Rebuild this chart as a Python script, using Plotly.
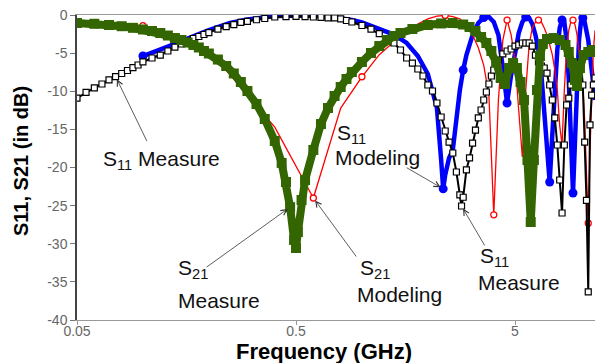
import math
import plotly.graph_objects as go

# ---------------- data (frequency in GHz, level in dB) ----------------
s11_meas_f = [0.05, 0.055, 0.06, 0.065, 0.07, 0.075, 0.08, 0.085, 0.09, 0.095,
              0.10, 0.11, 0.12, 0.13, 0.14, 0.15, 0.16, 0.17, 0.18, 0.19, 0.20,
              0.22, 0.24, 0.26, 0.28, 0.30, 0.33, 0.36, 0.40, 0.45, 0.50,
              0.55, 0.60, 0.65, 0.70, 0.75, 0.80, 0.85, 0.90,
              1.0, 1.1, 1.2, 1.3, 1.4, 1.5, 1.6, 1.7, 1.8, 1.9, 2.0, 2.1, 2.2, 2.3, 2.4, 2.5, 2.6, 2.7, 2.8,
              2.85,
              2.9, 3.0, 3.1, 3.2, 3.3, 3.4, 3.5, 3.6, 3.7, 3.8, 3.9, 4.0,
              4.2, 4.4, 4.6, 4.8, 5.0, 5.2, 5.4, 5.6, 5.8, 6.0, 6.2, 6.4, 6.6, 6.8, 7.0, 7.2, 7.4, 7.6, 7.8,
              8.0, 8.2, 8.4, 8.6, 8.8, 9.0, 9.2, 9.4, 9.6, 9.8, 10.0, 10.2, 10.4, 10.6, 10.8, 11.0, 11.2,
              11.4, 11.6]
s11_meas_db = [-10.89, -10.16, -9.57, -9.05, -8.52, -8.07, -7.67, -7.28, -6.89, -6.56,
               -6.16, -5.64, -5.25, -4.72, -4.2, -3.8, -3.41, -3.08, -2.82, -2.56, -2.3,
               -1.84, -1.53, -1.25, -0.98, -0.83, -0.62, -0.46, -0.26, -0.2, -0.17,
               -0.2, -0.26, -0.31, -0.37, -0.39, -0.52, -0.72, -0.92,
               -1.38, -1.84, -2.43, -3.08, -3.67, -4.59, -5.64, -6.3, -7.08, -8.0, -9.18, -9.97, -11.54,
               -13.38, -15.21, -16.66, -18.1, -20.59, -23.6,
               -25.05,
               -23.9, -20.3, -18.75, -16.8, -15.1, -13.5, -12.46, -11.15, -10.1, -9.05, -8.0, -7.21,
               -5.9, -5.11, -4.72, -4.46, -4.07, -3.93, -3.67, -3.67, -3.67, -4.07, -5.25, -6.16, -6.69,
               -6.95, -7.61, -9.18, -11.15, -13.5, -17.05, -21.64, -25.97, -17.05, -11.8, -10.9, -9.18,
               -8.26, -7.48, -6.82, -6.3, -6.3, -9.18, -16.66, -24.3, -36.3, -14.4, -10.5, -9.18, -8.26]

s21_meas_f = [0.05, 0.06, 0.07, 0.08, 0.09,
              0.10, 0.11, 0.12, 0.13, 0.14, 0.15, 0.16, 0.17, 0.18, 0.19, 0.20,
              0.22, 0.24, 0.26, 0.28, 0.30,
              0.33, 0.36, 0.40, 0.43, 0.45, 0.47, 0.49, 0.50, 0.51, 0.53, 0.55,
              0.60, 0.65, 0.70, 0.75, 0.80, 0.85, 0.90,
              1.0, 1.1, 1.2, 1.3, 1.4, 1.5, 1.7, 2.0, 2.3, 2.6, 2.9,
              3.1, 3.3, 3.5, 3.7, 3.9, 4.1, 4.3, 4.5, 4.7, 4.9, 5.1, 5.3, 5.5, 5.7, 5.9, 6.1, 6.3, 6.5, 6.7,
              7.0, 7.5, 8.0, 8.5, 8.8, 9.1, 9.4, 9.6, 9.9, 10.3, 10.8, 11.3, 11.6]
s21_meas_db = [-1.05, -1.15, -1.31, -1.47, -1.68,
               -1.9, -2.1, -2.36, -2.69, -3.02, -3.28, -3.61, -3.93, -4.26, -4.72, -5.05,
               -5.84, -6.69, -7.67, -8.79, -9.97,
               -11.67, -13.64, -16.52, -19.4, -21.9, -25.2, -29.5, -30.56, -28.46, -24.26, -21.64,
               -17.7, -14.3, -12.2, -10.62, -9.44, -8.39, -7.48,
               -6.16, -4.98, -4.07, -3.28, -2.75, -2.36, -1.84, -1.31, -1.11, -1.05, -1.25,
               -1.57, -2.1, -2.89, -3.67, -4.72, -6.16, -8.26, -9.05, -6.95, -6.3, -6.95, -8.79, -11.15,
               -19.02, -27.15, -19.02, -9.84, -5.38, -3.8,
               -3.15, -3.02, -3.28, -3.93, -4.85, -6.3, -8.52, -9.31, -6.95, -5.25, -4.85, -4.59, -4.85]

s11_mod_f = [0.10, 0.12, 0.14, 0.16, 0.18, 0.20,
             0.25, 0.30, 0.40, 0.50, 0.60, 0.70, 0.80, 0.90,
             1.0, 1.2, 1.4, 1.6, 1.8, 2.0,
             2.1, 2.2, 2.3, 2.35, 2.4, 2.5, 2.6, 2.7, 2.8, 2.9, 3.0,
             3.2, 3.4, 3.6, 3.8, 4.0, 4.2, 4.4, 4.6, 4.8, 5.0, 5.2, 5.4, 5.6, 5.8, 6.0, 6.2, 6.4, 6.6,
             6.8, 7.0, 7.2, 7.4, 7.6, 7.8, 8.0, 8.2, 8.4, 8.6, 8.8, 9.0, 9.2, 9.4, 9.6, 9.8, 10.0, 10.2, 10.4,
             10.8, 11.2, 11.6]
s11_mod_db = [-5.38, -4.59, -3.8, -3.08, -2.49, -1.97,
              -1.05, -0.59, -0.13, -0.04, -0.07, -0.2, -0.39, -0.66,
              -0.98, -1.77, -2.56, -3.67, -5.38, -7.74,
              -10.1, -12.2, -19.0, -22.8, -20.98, -18.75, -17.7, -13.1, -9.84, -7.21, -5.25,
              -2.62, -1.05, -0.33, -0.26, -0.92, -2.62, -6.95, -11.54, -7.87, -4.59, -2.36, -0.92, -0.26,
              -0.39, -1.18, -2.62, -4.59, -7.87, -12.46, -17.7, -21.9, -15.74, -9.18, -4.59, -1.7, -0.66,
              -0.92, -3.28, -8.52, -16.39, -23.34, -16.39, -8.52, -3.28, -0.92, -0.39, -0.92,
              -3.28, -7.21, -11.15]
s11_mod_marker_f = [0.10, 2.35, 2.9, 3.6, 4.6, 5.6, 7.2, 8.2, 9.2, 10.2]

s21_mod_f = [0.1, 0.2, 0.4, 0.6, 0.8, 1.0, 1.2, 1.4, 1.6, 1.8, 2.0, 2.2, 2.4, 2.6, 2.8, 3.0,
             3.2, 3.4, 3.6, 3.8, 4.0, 4.2, 4.4, 4.6, 4.8, 5.0, 5.2, 5.4, 5.6, 5.8, 6.0, 6.2, 6.4,
             6.6, 6.8, 7.0, 7.2, 7.4, 7.6, 7.8, 8.0, 8.2, 8.4, 8.6, 8.8, 9.0, 9.2, 9.4, 9.6, 9.8,
             10.0, 10.2, 10.4, 10.6, 10.8, 11.0, 11.2, 11.4, 11.6]
s21_mod_db = [-1.4, -4.6, -14.7, -24.0, -12.2, -8.1, -5.2, -3.5, -2.2, -1.2, -0.5, -0.15, -0.05,
              -0.2, -0.5, -1.3, -2.6, -4.3, -6.6, -10.5, -26.2, -11.1, -3.3, -0.66, -2.6, -5.9,
              -12.5, -18.6, -9.8, -3.9, -1.7, -0.9, -0.66, -0.9, -1.7, -2.6, -3.9, -5.2, -7.2,
              -9.8, -14.5, -17.0, -9.8, -4.6, -2.0, -0.9, -0.66, -1.3, -2.6, -4.6, -6.6, -9.2,
              -13.8, -20.3, -27.3, -17.7, -9.8, -4.6, -2.0]
s21_mod_marker_f = [0.1, 0.6, 1.0, 2.4, 4.0, 4.6, 6.4, 9.2, 10.8]

x_tick_vals = [0.05, 0.5, 5]
x_tick_text = ["0.05", "0.5", "5"]
y_tick_vals = [0, -5, -10, -15, -20, -25, -30, -35, -40]
y_tick_text = ["0", "-5", "-10", "-15", "-20", "-25", "-30", "-35", "-40"]

assert len(s11_meas_f) == len(s11_meas_db)
assert len(s21_meas_f) == len(s21_meas_db)
assert len(s11_mod_f) == len(s11_mod_db)
assert len(s21_mod_f) == len(s21_mod_db)


def subset(fs, ds, keep):
    pairs = [(f, d) for f, d in zip(fs, ds) if f in keep]
    return [p[0] for p in pairs], [p[1] for p in pairs]


def value_at(fs, ds, f0):
    return ds[fs.index(f0)]


BLUE = "#0000ff"
RED = "#ff0000"
GREEN = "#336600"
FONT = "Liberation Sans, Arial, sans-serif"

fig = go.Figure()

# S11 modeling (blue thick line + filled circles)
fig.add_trace(go.Scatter(x=s11_mod_f, y=s11_mod_db, mode="lines",
                         line=dict(color=BLUE, width=4.5), showlegend=False))
bx, by = subset(s11_mod_f, s11_mod_db, s11_mod_marker_f)
fig.add_trace(go.Scatter(x=bx, y=by, mode="markers",
                         marker=dict(symbol="circle", size=9, color=BLUE), showlegend=False))

# S21 modeling (thin red line + open circles)
fig.add_trace(go.Scatter(x=s21_mod_f, y=s21_mod_db, mode="lines",
                         line=dict(color=RED, width=1.3), showlegend=False))
rx, ry = subset(s21_mod_f, s21_mod_db, s21_mod_marker_f)
fig.add_trace(go.Scatter(x=rx, y=ry, mode="markers",
                         marker=dict(symbol="circle", size=6, color="white",
                                     line=dict(color=RED, width=1.3)), showlegend=False))

# S11 measure (black line + open squares)
fig.add_trace(go.Scatter(x=s11_meas_f, y=s11_meas_db, mode="lines+markers",
                         line=dict(color="black", width=2),
                         marker=dict(symbol="square", size=6, color="white",
                                     line=dict(color="black", width=1.2)), showlegend=False))

# S21 measure (dark green thick line + filled squares)
fig.add_trace(go.Scatter(x=s21_meas_f, y=s21_meas_db, mode="lines+markers",
                         line=dict(color=GREEN, width=8),
                         marker=dict(symbol="square", size=10, color=GREEN), showlegend=False))

# ---------------- layout ----------------
W, H = 595, 363
L, R, T, B = 77, 0, 15, 43
PW, PH = W - L - R, H - T - B
DECADE_PX = 219.0
x_lo = math.log10(0.05)
x_hi = x_lo + PW / DECADE_PX


def px(xp):
    return (xp - L) / PW


def py(yp):
    return (H - B - yp) / PH


annotations = []
text_font = dict(family=FONT, size=21, color="#111111")


def add_text(txt, xl, yc):
    annotations.append(dict(text=txt, xref="paper", yref="paper", x=px(xl), y=py(yc),
                            xanchor="left", yanchor="middle", showarrow=False, font=text_font,
                            borderpad=0))


def add_arrow(f, d, ax, ay):
    annotations.append(dict(text="", x=math.log10(f), y=d, xref="x", yref="y",
                            ax=ax, ay=ay, showarrow=True, arrowhead=5, arrowsize=1.4,
                            arrowwidth=0.8, arrowcolor="#333333", standoff=3))


add_text("S<sub>11</sub> Measure", 102, 160)
add_arrow(0.075, value_at(s11_meas_f, s11_meas_db, 0.075), 32, 66)

add_text("S<sub>11</sub>", 336, 134)
add_text("Modeling", 334, 157)
add_arrow(2.35, value_at(s11_mod_f, s11_mod_db, 2.35), -38, -22)

add_text("S<sub>21</sub>", 177, 269)
add_text("Measure", 177, 300)
add_arrow(0.47, value_at(s21_meas_f, s21_meas_db, 0.47), -85, 61)

add_text("S<sub>21</sub>", 359, 269)
add_text("Modeling", 356, 294)
add_arrow(0.6, value_at(s21_mod_f, s21_mod_db, 0.6), 44, 60)

add_text("S<sub>11</sub>", 479, 257)
add_text("Measure", 477, 282)
add_arrow(2.85, value_at(s11_meas_f, s11_meas_db, 2.85), 24, 41)

# axis titles as annotations for exact placement
annotations.append(dict(text="<b>S11, S21 (in dB)</b>", xref="paper", yref="paper",
                        x=px(21), y=py(161), xanchor="center", yanchor="middle",
                        textangle=-90, showarrow=False,
                        font=dict(family=FONT, size=20, color="black")))
annotations.append(dict(text="<b>Frequency (GHz)</b>", xref="paper", yref="paper",
                        x=px(324), y=py(351), xanchor="center", yanchor="middle",
                        showarrow=False, borderpad=0,
                        font=dict(family=FONT, size=22, color="black")))

tick_font = dict(family=FONT, size=14, color="#666666")

fig.update_layout(
    width=W, height=H,
    margin=dict(l=L, r=R, t=T, b=B, pad=0),
    paper_bgcolor="white", plot_bgcolor="white",
    showlegend=False,
    annotations=annotations,
    xaxis=dict(type="log", range=[x_lo, x_hi], tickmode="array",
               tickvals=x_tick_vals, ticktext=x_tick_text,
               ticks="outside", ticklen=4, tickcolor="#999999", tickwidth=1,
               ticklabelstandoff=-6,
               showline=True, linecolor="#999999", linewidth=1.2, mirror=True,
               showgrid=False, zeroline=False, tickfont=tick_font, automargin=False),
    yaxis=dict(range=[-40, 0], tickmode="array", tickvals=y_tick_vals, ticktext=y_tick_text,
               ticks="outside", ticklen=5, tickcolor="#777777", tickwidth=1,
               showline=True, linecolor="#444444", linewidth=1.5,
               showgrid=False, zeroline=False, tickfont=tick_font, automargin=False),
)

fig.write_html("out.html")
